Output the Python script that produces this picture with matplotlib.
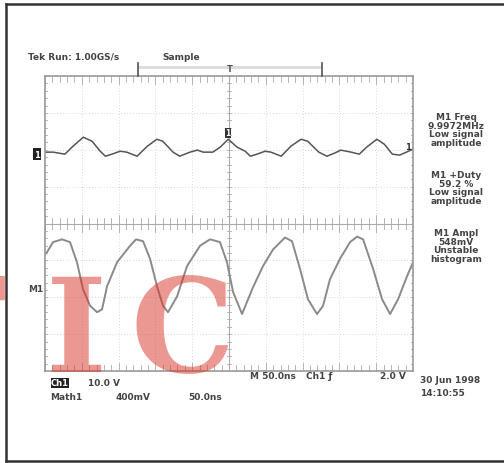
import matplotlib
matplotlib.use("Agg")
import matplotlib.pyplot as plt
from matplotlib.lines import Line2D
from matplotlib.patches import Rectangle

# Ch1 trace: time (ns) and voltage (V), 2.0 V/div
ch1_t = [0, 11, 27, 38, 52, 64, 75, 82, 91, 102, 111, 125, 139, 152, 160, 174,
         183, 197, 207, 215, 228, 238, 249, 261, 272, 279, 288, 299, 307, 321,
         334, 348, 357, 372, 383, 393, 402, 416, 427, 437, 451, 461, 472, 482, 500]
ch1_v = [0.11, 0.11, 0.0, 0.43, 0.92, 0.70, 0.16, -0.11, 0.0, 0.16, 0.11, -0.11,
         0.43, 0.81, 0.70, 0.11, -0.11, 0.11, 0.22, 0.11, 0.11, 0.38, 0.81, 0.38,
         0.16, -0.11, 0.0, 0.16, 0.11, -0.11, 0.43, 0.81, 0.70, 0.11, -0.11, 0.05,
         0.22, 0.11, 0.0, 0.38, 0.81, 0.54, 0.0, -0.05, 0.27]

# Math1 trace: time (ns) and voltage (V), 400 mV/div
m1_t = [0, 2.7, 10.9, 23.1, 34.0, 43.5, 51.6, 61.2, 70.7, 77.5, 84.3, 97.8, 115.5,
        123.7, 133.2, 142.7, 152.2, 160.3, 167.1, 179.4, 193.0, 210.6, 224.2,
        237.8, 247.3, 255.5, 267.7, 282.6, 296.2, 309.8, 326.1, 335.6, 346.5,
        357.3, 369.6, 377.8, 387.3, 400.9, 414.5, 424.0, 432.2, 445.8, 458.0,
        468.9, 479.7, 491.9, 500]
m1_v = [0.38, 0.40, 0.51, 0.54, 0.51, 0.29, 0.0, -0.18, -0.25, -0.22, 0.03, 0.29,
        0.47, 0.54, 0.52, 0.33, 0.03, -0.18, -0.25, -0.08, 0.25, 0.47, 0.54, 0.51,
        0.29, -0.03, -0.27, 0.02, 0.25, 0.43, 0.56, 0.52, 0.22, -0.11, -0.27,
        -0.18, 0.11, 0.33, 0.51, 0.57, 0.54, 0.22, -0.11, -0.27, -0.11, 0.14, 0.29]

ch1_scale = 2.0      # V/div
m1_scale = 0.4       # V/div
ch1_ref = 1.88       # ground marker, divisions from centre
m1_ref = -1.78

meas_text = ["M1 Freq\n9.9972MHz\nLow signal\namplitude",
             "M1 +Duty\n59.2 %\nLow signal\namplitude",
             "M1 Ampl\n548mV\nUnstable\nhistogram"]

W, H = 504, 464
fig = plt.figure(figsize=(W / 100, H / 100), dpi=100)


def fx(px):
    return px / W


def fy(py):
    return 1 - py / H


# outer frame
for xs, ys in [([6, 504], [5, 5]), ([6, 6], [5, 462]), ([6, 504], [462, 462])]:
    fig.add_artist(Line2D([fx(v) for v in xs], [fy(v) for v in ys],
                          color="#333333", lw=1.8))

ax = fig.add_axes([fx(45), fy(372), fx(413) - fx(45), fy(77) - fy(372)])
ax.set_xlim(0, 500)
ax.set_ylim(-4, 4)
ax.set_xticks([])
ax.set_yticks([])
for s in ax.spines.values():
    s.set_color("#999999")
    s.set_linewidth(1.2)

# graticule
for i in range(1, 10):
    ax.axvline(i * 50, color="#cccccc", lw=0.6, ls=(0, (1, 2.5)))
for j in range(-3, 4):
    ax.axhline(j, color="#cccccc", lw=0.6, ls=(0, (1, 2.5)))
ax.axvline(250, color="#aaaaaa", lw=0.8)
ax.axhline(0, color="#aaaaaa", lw=0.8)
for k in range(51):
    t = k * 10
    ln = 0.15 if k % 5 else 0.22
    for y0 in (0, 4, -4):
        ax.plot([t, t], [y0 - ln, y0 + ln], color="#aaaaaa", lw=0.6)
for k in range(41):
    v = -4 + k * 0.2
    for x0 in (0, 250, 500):
        ax.plot([x0 - 2.5, x0 + 2.5], [v, v], color="#aaaaaa", lw=0.6)

ax.plot(ch1_t, [ch1_ref + v / ch1_scale for v in ch1_v], color="#555555", lw=1.1)
ax.plot(m1_t, [m1_ref + v / m1_scale for v in m1_v], color="#8a8a8a", lw=1.4)

# watermark
wm = dict(color=(0.86, 0.2, 0.15), alpha=0.5, family="DejaVu Serif",
          fontweight="bold", fontsize=94, va="baseline", ha="left")
fig.text(fx(-92), fy(372), "T", **wm)
fig.text(fx(46), fy(372), "I", **wm)
fig.text(fx(130), fy(372), "C", **wm)

txt = dict(color="#444444", fontsize=6.5, fontweight="bold", family="DejaVu Sans")
fig.text(fx(28), fy(57), "Tek Run: 1.00GS/s", va="center", **txt)
fig.text(fx(162), fy(57), "Sample", va="center", **txt)

# record indicator
fig.add_artist(Rectangle((fx(138), fy(70)), fx(322) - fx(138), fy(67) - fy(70),
                         color="#dddddd", lw=0))
for px in (138, 322):
    fig.add_artist(Line2D([fx(px), fx(px)], [fy(64), fy(77)], color="#555555", lw=1.2))
fig.text(fx(230), fy(69), "T", ha="center", va="center", color="#555555",
         fontsize=6, fontweight="bold")

for n, s in enumerate(meas_text):
    fig.text(fx(456), fy(113 + n * 58), s, ha="center", va="top",
             linespacing=0.95, **txt)

# markers at left
fig.text(fx(37), fy(155), "1", ha="center", va="center", color="white",
         fontsize=6, fontweight="bold",
         bbox=dict(boxstyle="square,pad=0.15", fc="#222222", ec="none"))
fig.text(fx(28), fy(290), "M1", va="center", **txt)
fig.text(fx(228), fy(134), "1", ha="center", va="center", color="white",
         fontsize=5.5, fontweight="bold",
         bbox=dict(boxstyle="square,pad=0.1", fc="#333333", ec="none"))
fig.text(fx(408), fy(148), "1", ha="center", va="center", color="#333333",
         fontsize=6, fontweight="bold")

# bottom readouts
fig.text(fx(51), fy(384), "Ch1", va="center", color="white", fontsize=6,
         fontweight="bold",
         bbox=dict(boxstyle="square,pad=0.05", fc="#222222", ec="none"))
fig.text(fx(88), fy(384), "10.0 V", va="center", **txt)
fig.text(fx(50), fy(398), "Math1", va="center", **txt)
fig.text(fx(116), fy(398), "400mV", va="center", **txt)
fig.text(fx(188), fy(398), "50.0ns", va="center", **txt)
fig.text(fx(250), fy(377), "M 50.0ns", va="center", **txt)
fig.text(fx(306), fy(377), "Ch1 \u0192", va="center", **txt)
fig.text(fx(380), fy(377), "2.0 V", va="center", **txt)
fig.text(fx(420), fy(381), "30 Jun 1998", va="center", **txt)
fig.text(fx(420), fy(394), "14:10:55", va="center", **txt)

fig.savefig("out.png", dpi=100)
